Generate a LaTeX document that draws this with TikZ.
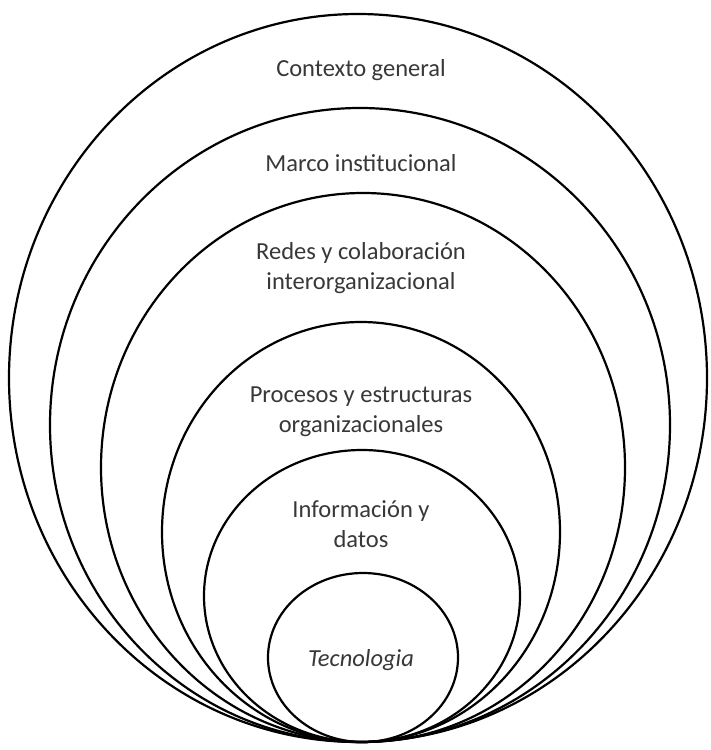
\documentclass[tikz,border=0pt]{standalone}
\usepackage{fontspec}
\setmainfont{Carlito}
\begin{document}
\begin{tikzpicture}[x=1pt,y=-1pt,
  ring/.style={draw=black,line width=2.2pt},
  lbl/.style={text=black!78,font=\fontsize{24.5}{30}\selectfont,align=center,inner sep=0pt}]
\useasboundingbox (0,0) rectangle (711,750);
\fill[white] (0,0) rectangle (711,750);
\draw[ring] (358,378) ellipse [x radius=349, y radius=364];
\draw[ring] (360,425) ellipse [x radius=310, y radius=317];
\draw[ring] (363,467.5) ellipse [x radius=262, y radius=274.5];
\draw[ring] (361,532) ellipse [x radius=199, y radius=210];
\draw[ring] (362,596) ellipse [x radius=158, y radius=146];
\draw[ring] (363,657.5) ellipse [x radius=95, y radius=84.5];
\node[lbl] (t1) at (361,70) {Contexto general};
\node[lbl] (t2) at (361,163) {Marco institucional};
\node[lbl] (t3) at (361,268) {Redes y colaboración\\interorganizacional};
\node[lbl] (t4) at (361,412) {Procesos y estructuras\\organizacionales};
\node[lbl] (t5) at (361,524) {Información y\\datos};
\node[lbl,font=\fontsize{24.5}{30}\selectfont\itshape] (t6) at (361,660) {Tecnologia};
\end{tikzpicture}
\end{document}
